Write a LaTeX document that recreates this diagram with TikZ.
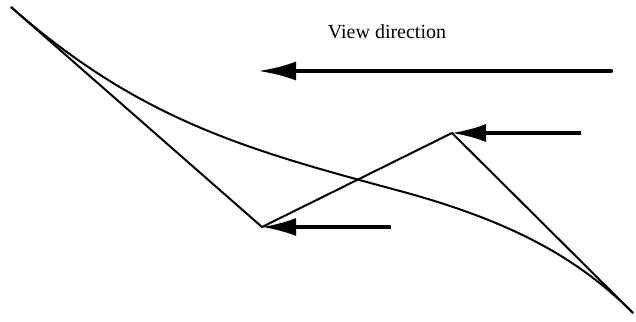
\documentclass[tikz,border=0pt]{standalone}
\usepackage{fontspec}
\setmainfont{Liberation Serif}
\usetikzlibrary{arrows.meta}
\begin{document}
\begin{tikzpicture}[x=1bp,y=-1bp,
  thinline/.style={line width=2bp,line join=miter},
  viewarrow/.style={line width=3.2bp,-{Latex[length=34bp,width=18bp]}},
  bigarrow/.style={line width=4.2bp,line cap=round,-{Latex[length=38bp,width=19bp]}},
  label/.style={font=\fontsize{20bp}{22bp}\selectfont,anchor=base,inner sep=0pt}]
\useasboundingbox (0,0) rectangle (636,321);
\coordinate (A) at (11,7);
\coordinate (B) at (262,227);
\coordinate (C) at (452,133);
\coordinate (D) at (633,313);
\coordinate (M) at (400,191);
\coordinate (Btail) at (391,227);
\coordinate (Ctail) at (581,133);
\coordinate (Vtail) at (611,71);
\coordinate (Vtip) at (258,71);
% curve
\draw[thinline] (A) .. controls (141,121.4) and (250,150.5) .. (M)
  .. controls (520,223.4) and (583,263) .. (D);
% ray lines
\draw[thinline] (A) -- (B) -- (C) -- (D);
% view arrows
\draw[viewarrow] (Btail) -- (B);
\draw[viewarrow] (Ctail) -- (C);
\draw[bigarrow] (Vtail) -- (Vtip);
\node[label] (vd) at (387,38) {View direction};
\end{tikzpicture}
\end{document}
